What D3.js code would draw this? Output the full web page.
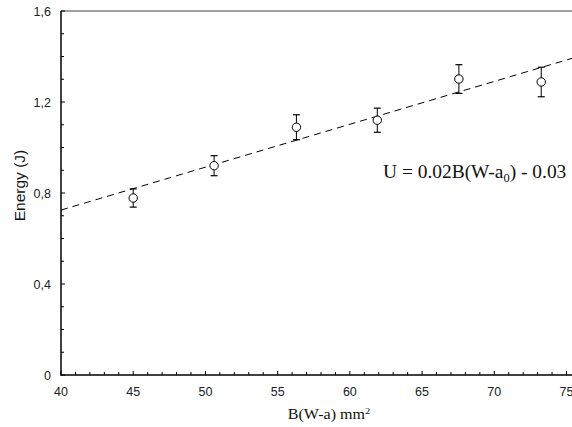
<!DOCTYPE html>
<html>
<head>
<meta charset="utf-8">
<script src="https://cdn.jsdelivr.net/npm/d3@7"></script>
<style>
  body { margin: 0; background: #fff; }
  svg { display: block; }
</style>
</head>
<body>
<div class="canvas"></div>
<script>
// data
const xValues = [45.0, 50.6, 56.3, 61.9, 67.55, 73.25];
const energy = [0.778, 0.920, 1.089, 1.120, 1.301, 1.288];
const errors = [0.040, 0.044, 0.055, 0.053, 0.063, 0.065];
const fitSlope = 0.01885;
const fitIntercept = -0.029;
const xTicks = [40, 45, 50, 55, 60, 65, 70, 75];
const yTicks = [0, 0.4, 0.8, 1.2, 1.6];

const size = { width: 572, height: 427 };
const plot = { left: 61, top: 11, bottom: 375, right: 572 };

const svg = d3.select('.canvas')
    .append('svg')
        .attr('width', size.width)
        .attr('height', size.height);

const x = d3.scaleLinear().domain([40, 75]).range([plot.left, 566.5]);
const y = d3.scaleLinear().domain([0, 1.6]).range([plot.bottom, plot.top]);

// top frame line
svg.append('line')
    .attr('x1', plot.left).attr('x2', plot.right)
    .attr('y1', plot.top).attr('y2', plot.top)
    .attr('stroke', '#808080').attr('stroke-width', 1.5);

// minor ticks
const xMinor = d3.range(41, 76, 1).filter(v => v % 5 !== 0);
const yMinor = d3.range(1, 16, 1).map(v => v / 10).filter((v, i) => (i + 1) % 4 !== 0);

const axisG = svg.append('g');
axisG.selectAll('.xminor').data(xMinor).enter().append('line')
    .attr('x1', d => x(d)).attr('x2', d => x(d))
    .attr('y1', plot.bottom).attr('y2', plot.bottom - 3)
    .attr('stroke', '#000').attr('stroke-width', 1);
axisG.selectAll('.xmajor').data(xTicks).enter().append('line')
    .attr('x1', d => x(d)).attr('x2', d => x(d))
    .attr('y1', plot.bottom).attr('y2', plot.bottom - 4)
    .attr('stroke', '#000').attr('stroke-width', 1);
axisG.selectAll('.yminor').data(yMinor).enter().append('line')
    .attr('x1', plot.left).attr('x2', plot.left + 3)
    .attr('y1', d => y(d)).attr('y2', d => y(d))
    .attr('stroke', '#000').attr('stroke-width', 1);
axisG.selectAll('.ymajor').data(yTicks).enter().append('line')
    .attr('x1', plot.left).attr('x2', plot.left + 4)
    .attr('y1', d => y(d)).attr('y2', d => y(d))
    .attr('stroke', '#000').attr('stroke-width', 1);

// axis lines
svg.append('line')
    .attr('x1', plot.left).attr('x2', plot.left)
    .attr('y1', plot.top).attr('y2', plot.bottom + 0.5)
    .attr('stroke', '#000').attr('stroke-width', 1.5);
svg.append('line')
    .attr('x1', plot.left - 0.5).attr('x2', plot.right)
    .attr('y1', plot.bottom).attr('y2', plot.bottom)
    .attr('stroke', '#000').attr('stroke-width', 1.5);

// tick labels
svg.selectAll('.xlabel').data(xTicks).enter().append('text')
    .attr('x', d => x(d)).attr('y', plot.bottom + 21)
    .attr('text-anchor', 'middle')
    .attr('font-family', 'Liberation Sans, Arial, sans-serif')
    .attr('font-size', 12.5).attr('fill', '#222')
    .text(d => d);
svg.selectAll('.ylabel').data(yTicks).enter().append('text')
    .attr('x', plot.left - 10).attr('y', d => y(d) + 4.5)
    .attr('text-anchor', 'end')
    .attr('font-family', 'Liberation Sans, Arial, sans-serif')
    .attr('font-size', 12.5).attr('fill', '#222')
    .text(d => d === 0 ? '0' : d.toFixed(1).replace('.', ','));

// axis titles
const xt = svg.append('text')
    .attr('transform', 'translate(329,419) scale(1.15,1)')
    .attr('text-anchor', 'middle')
    .attr('font-family', 'Liberation Serif, Times New Roman, serif')
    .attr('font-size', 14).attr('fill', '#111');
xt.append('tspan').text('B(W-a) mm');
xt.append('tspan').attr('font-size', 9).attr('dy', -5).text('2');

svg.append('text')
    .attr('transform', 'translate(24.5,185.5) rotate(-90)')
    .attr('text-anchor', 'middle')
    .attr('font-family', 'Liberation Sans, Arial, sans-serif')
    .attr('font-size', 15.5).attr('fill', '#111')
    .text('Energy (J)');

// fitted line
const fitX = [40, 75.45];
svg.append('line')
    .attr('x1', x(fitX[0])).attr('y1', y(fitSlope * fitX[0] + fitIntercept))
    .attr('x2', x(fitX[1])).attr('y2', y(fitSlope * fitX[1] + fitIntercept))
    .attr('stroke', '#000').attr('stroke-width', 1)
    .attr('stroke-dasharray', '7,5');

// error bars and points
const points = xValues.map((v, i) => ({ x: v, y: energy[i], e: errors[i] }));
const pg = svg.append('g');
pg.selectAll('.err').data(points).enter().append('line')
    .attr('x1', d => x(d.x)).attr('x2', d => x(d.x))
    .attr('y1', d => y(d.y + d.e)).attr('y2', d => y(d.y - d.e))
    .attr('stroke', '#000').attr('stroke-width', 1);
['top', 'bot'].forEach(k => {
    pg.selectAll('.cap' + k).data(points).enter().append('line')
        .attr('x1', d => x(d.x) - 3.5).attr('x2', d => x(d.x) + 3.5)
        .attr('y1', d => y(k === 'top' ? d.y + d.e : d.y - d.e))
        .attr('y2', d => y(k === 'top' ? d.y + d.e : d.y - d.e))
        .attr('stroke', '#000').attr('stroke-width', 1.2);
});
pg.selectAll('circle').data(points).enter().append('circle')
    .attr('cx', d => x(d.x)).attr('cy', d => y(d.y))
    .attr('r', 4.2)
    .attr('fill', '#fff').attr('stroke', '#000').attr('stroke-width', 1);

// equation
const eq = svg.append('text')
    .attr('transform', 'translate(383,178) scale(1.08,1)')
    .attr('font-family', 'Liberation Serif, Times New Roman, serif')
    .attr('font-size', 18).attr('fill', '#111');
eq.append('tspan').text('U = 0.02B(W-a');
eq.append('tspan').attr('font-size', 11.5).attr('dy', 4).text('0');
eq.append('tspan').attr('dy', -4).text(') - 0.03');
</script>
</body>
</html>
